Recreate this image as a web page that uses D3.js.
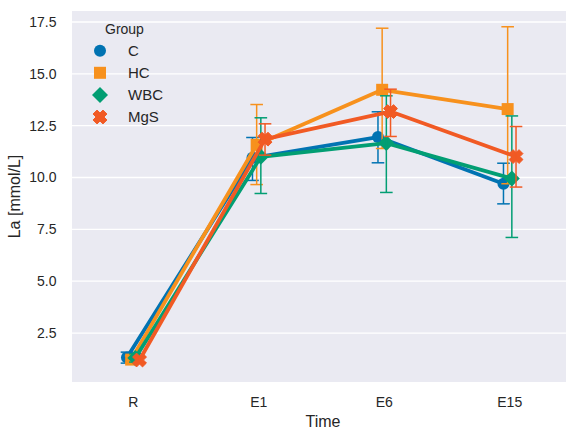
<!DOCTYPE html>
<html>
<head>
<meta charset="utf-8">
<script src="https://cdn.jsdelivr.net/npm/d3@7"></script>
<style>
  body { margin: 0; background: #fff; }
  text { font-family: "Liberation Sans", Arial, sans-serif; fill: #262626; }
</style>
</head>
<body>
<svg id="chart"></svg>
<script>
// categories on the x axis and the hue groups
const categories = ["R", "E1", "E6", "E15"];
const groups = ["C", "HC", "WBC", "MgS"];
const colors = ["#0173b2", "#f7911d", "#029e73", "#f15a24"];
const markers = ["circle", "square", "diamond", "x"];

// mean La per group (R, E1, E6, E15)
const meanC   = [1.32, 10.95, 11.95, 9.70];
const meanHC  = [1.22, 11.58, 14.23, 13.30];
const meanWBC = [1.30, 11.00, 11.66, 9.95];
const meanMgS = [1.20, 11.85, 13.18, 11.01];

// confidence interval ends
const lowC   = [1.05, 9.86, 10.71, 8.73];
const lowHC  = [1.05, 9.66, 11.40, 9.70];
const lowWBC = [1.10, 9.23, 9.28, 7.11];
const lowMgS = [1.05, 11.08, 11.98, 9.54];

const highC   = [1.58, 11.93, 13.17, 10.69];
const highHC  = [1.40, 13.52, 17.20, 17.27];
const highWBC = [1.50, 12.88, 13.94, 12.97];
const highMgS = [1.35, 12.59, 14.26, 12.46];

const yTicks = [2.5, 5.0, 7.5, 10.0, 12.5, 15.0, 17.5];

const means = [meanC, meanHC, meanWBC, meanMgS];
const lows = [lowC, lowHC, lowWBC, lowMgS];
const highs = [highC, highHC, highWBC, highMgS];

const width = 566, height = 429;
const plot = { left: 72, top: 11, right: 566, bottom: 382 };

const svg = d3.select("#chart").attr("width", width).attr("height", height);

const x = d3.scaleLinear().domain([-0.5, categories.length - 0.5]).range([70.5, 572.5]);
const y = d3.scaleLinear().domain([0.14, 18.03]).range([plot.bottom, plot.top]);

svg.append("rect")
	.attr("x", plot.left)
	.attr("y", plot.top)
	.attr("width", plot.right - plot.left)
	.attr("height", plot.bottom - plot.top)
	.attr("fill", "#eaeaf2");

svg.append("clipPath").attr("id", "clip")
	.append("rect")
	.attr("x", plot.left)
	.attr("y", plot.top)
	.attr("width", plot.right - plot.left)
	.attr("height", plot.bottom - plot.top);

// horizontal grid
svg.append("g")
	.selectAll("line")
	.data(yTicks)
	.join("line")
	.attr("x1", plot.left)
	.attr("x2", plot.right)
	.attr("y1", (d) => y(d))
	.attr("y2", (d) => y(d))
	.attr("stroke", "#fff")
	.attr("stroke-width", 1.3);

// y tick labels
svg.append("g")
	.selectAll("text")
	.data(yTicks)
	.join("text")
	.attr("x", 56.5)
	.attr("y", (d) => y(d))
	.attr("dy", "0.35em")
	.attr("text-anchor", "end")
	.attr("font-size", "14px")
	.text((d) => d.toFixed(1));

// x tick labels
svg.append("g")
	.selectAll("text")
	.data(categories)
	.join("text")
	.attr("x", (d, i) => x(i))
	.attr("y", 407)
	.attr("text-anchor", "middle")
	.attr("font-size", "14px")
	.text((d) => d);

svg.append("text")
	.attr("x", (plot.left + 574) / 2)
	.attr("y", 427)
	.attr("text-anchor", "middle")
	.attr("font-size", "16px")
	.text("Time");

svg.append("text")
	.attr("transform", `translate(19.5, ${(plot.top + plot.bottom) / 2}) rotate(-90)`)
	.attr("text-anchor", "middle")
	.attr("font-size", "16px")
	.text("La [mmol/L]");

function markerPath(type) {
	if (type === "circle") return d3.symbol(d3.symbolCircle, Math.PI * 36)();
	if (type === "square") return d3.symbol(d3.symbolSquare, 144)();
	if (type === "diamond") return "M0,-8L8,0L0,8L-8,0Z";
	// filled X: a thick cross turned 45 degrees
	const s = 7, t = 2.8;
	const pts = [[t, s], [-t, s], [-t, t], [-s, t], [-s, -t], [-t, -t],
		[-t, -s], [t, -s], [t, -t], [s, -t], [s, t], [t, t]];
	const c = Math.SQRT1_2;
	return "M" + pts.map(([a, b]) => [(a - b) * c, (a + b) * c].map((v) => v.toFixed(2)).join(",")).join("L") + "Z";
}

const dodge = 0.1;
const offsets = groups.map((g, i) => -dodge / 2 + (dodge * i) / (groups.length - 1));
const capHalf = 6.3;

const layer = svg.append("g").attr("clip-path", "url(#clip)");

groups.forEach((g, gi) => {
	const pts = categories.map((c, ci) => ({
		cx: x(ci + offsets[gi]),
		mean: means[gi][ci],
		low: lows[gi][ci],
		high: highs[gi][ci],
	}));
	const grp = layer.append("g");

	grp.append("path")
		.datum(pts)
		.attr("d", d3.line().x((d) => d.cx).y((d) => y(d.mean)))
		.attr("fill", "none")
		.attr("stroke", colors[gi])
		.attr("stroke-width", 3.8)
		.attr("stroke-linejoin", "round");

	grp.selectAll("path.mk")
		.data(pts)
		.join("path")
		.attr("class", "mk")
		.attr("d", markerPath(markers[gi]))
		.attr("transform", (d) => `translate(${d.cx},${y(d.mean)})`)
		.attr("fill", colors[gi])
		.attr("stroke", colors[gi])
		.attr("stroke-width", markers[gi] === "x" ? 1 : 0)
		.attr("stroke-linejoin", "round");

	const err = grp.append("g")
		.attr("stroke", colors[gi])
		.attr("stroke-width", 1.5)
		.attr("fill", "none");
	pts.forEach((d) => {
		err.append("line")
			.attr("x1", d.cx).attr("x2", d.cx)
			.attr("y1", y(d.low)).attr("y2", y(d.high));
		[d.low, d.high].forEach((v) => {
			err.append("line")
				.attr("x1", d.cx - capHalf).attr("x2", d.cx + capHalf)
				.attr("y1", y(v)).attr("y2", y(v));
		});
	});
});

// legend
const legend = svg.append("g");
legend.append("text")
	.attr("x", 105)
	.attr("y", 33.5)
	.attr("font-size", "14px")
	.text("Group");

groups.forEach((g, gi) => {
	const cy = 50.7 + gi * 22.1;
	legend.append("path")
		.attr("d", markerPath(markers[gi]))
		.attr("transform", `translate(100,${cy})`)
		.attr("fill", colors[gi])
		.attr("stroke", colors[gi])
		.attr("stroke-width", markers[gi] === "x" ? 1 : 0)
		.attr("stroke-linejoin", "round");
	legend.append("text")
		.attr("x", 128)
		.attr("y", cy)
		.attr("dy", "0.36em")
		.attr("font-size", "15px")
		.text(g);
});
</script>
</body>
</html>
